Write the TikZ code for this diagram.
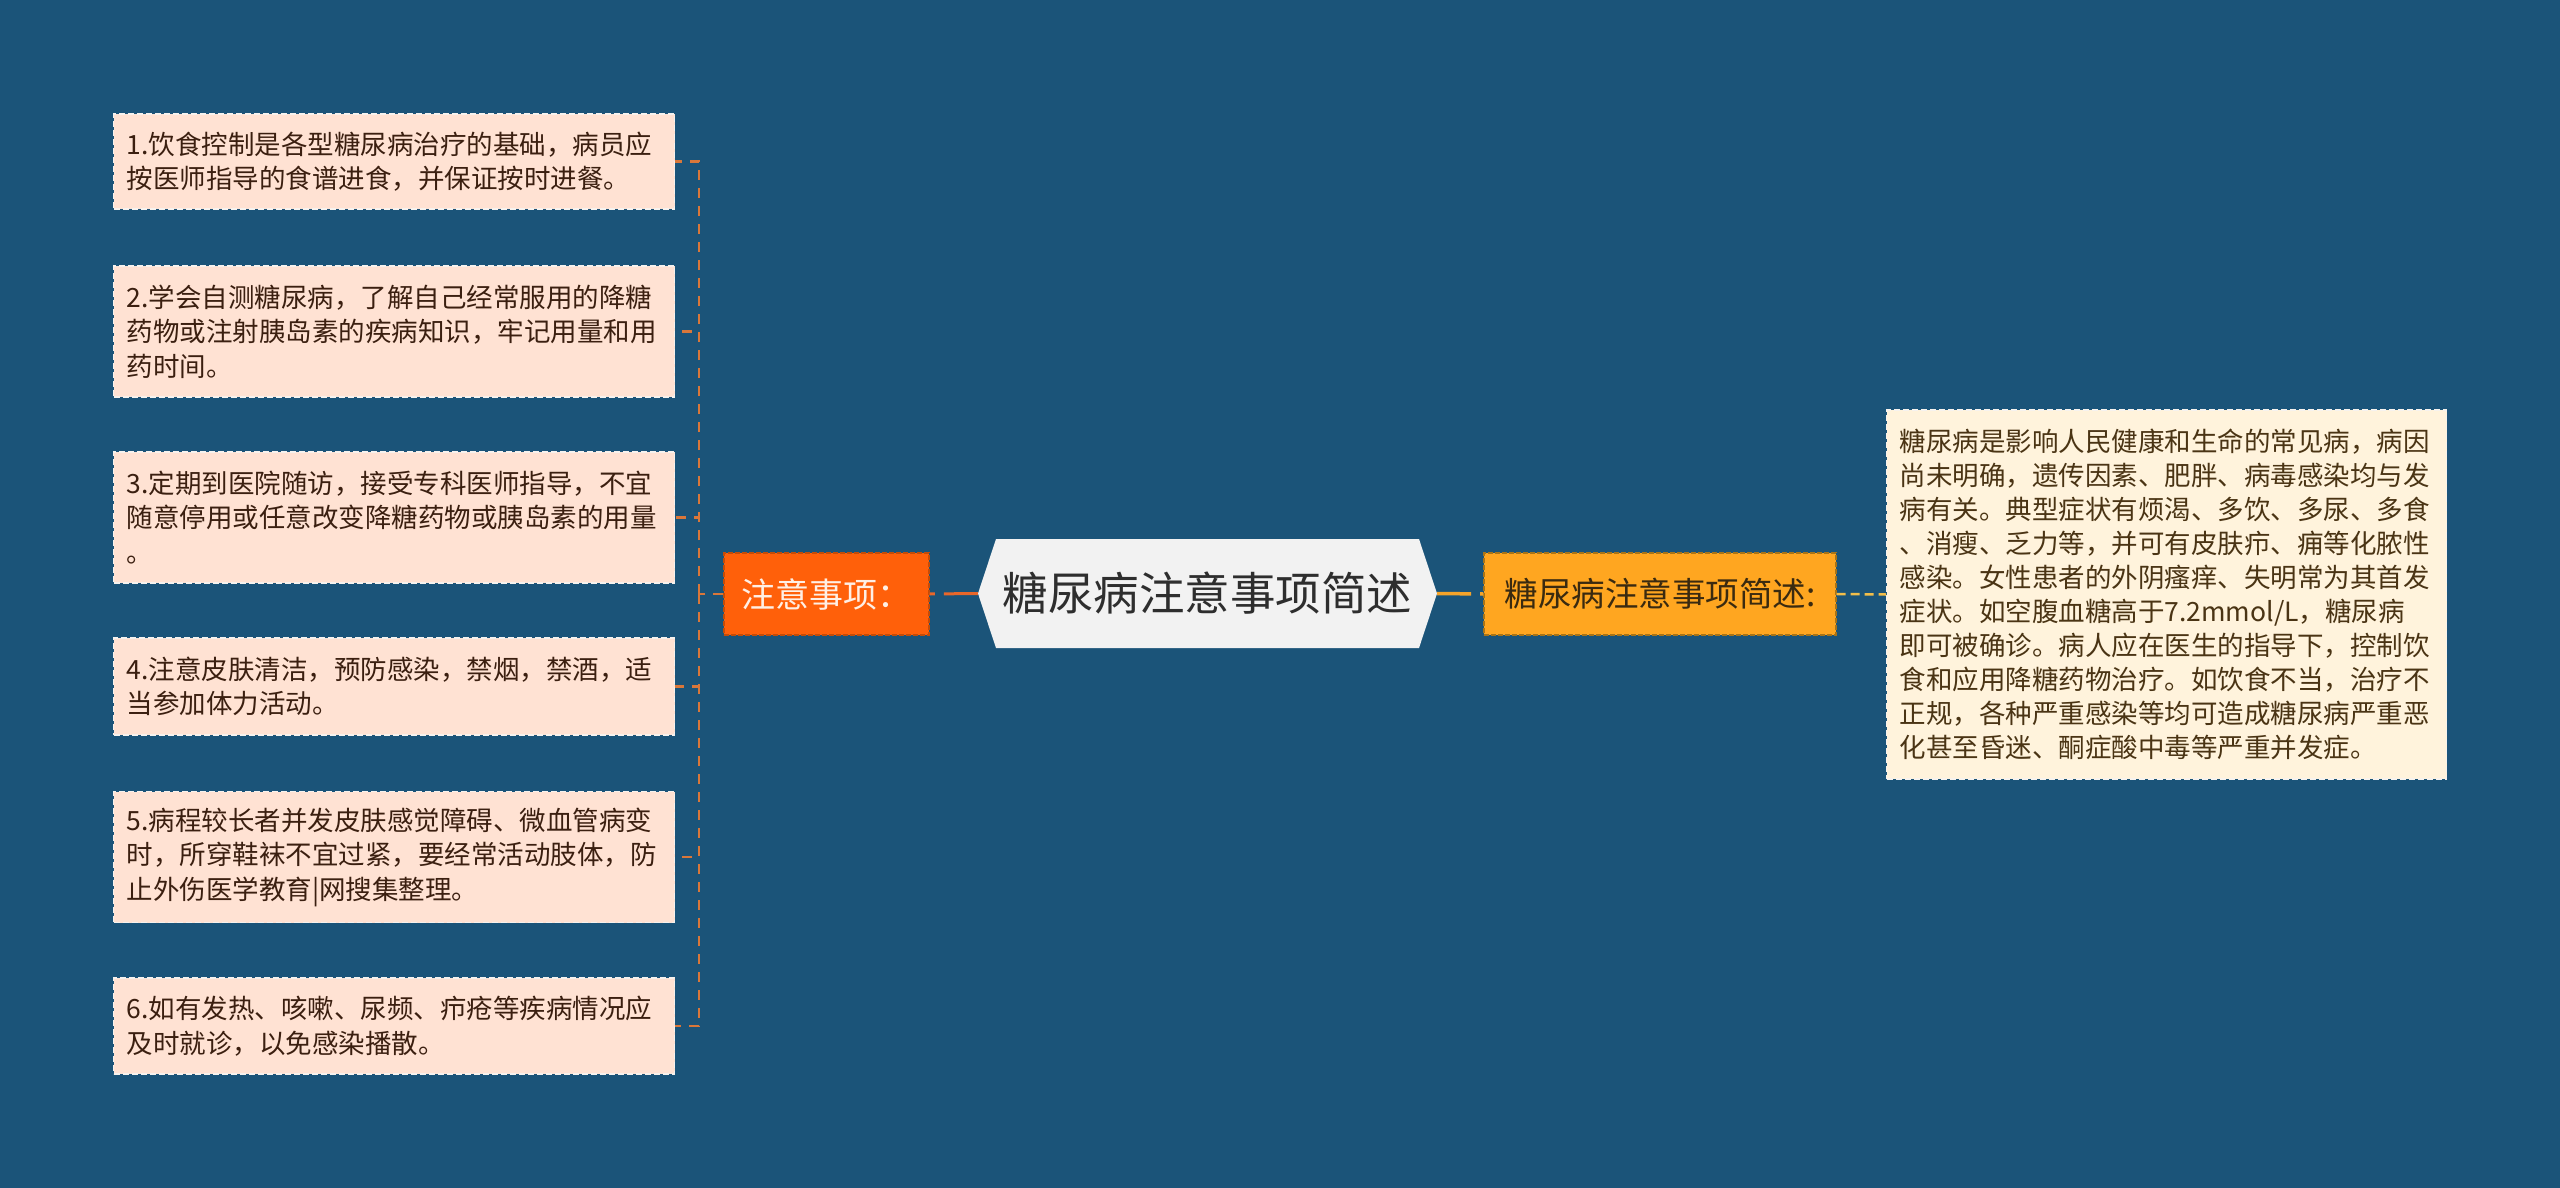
\documentclass[tikz,border=0pt]{standalone}
\usepackage{fontspec}
\setmainfont{Noto Sans CJK SC}
\definecolor{bg}{HTML}{1B5479}
\definecolor{leaffill}{HTML}{FFE2D3}
\definecolor{leafborder}{HTML}{F6F2EE}
\definecolor{leaftext}{HTML}{3B1F10}
\definecolor{rightfill}{HTML}{FFF3DC}
\definecolor{righttext}{HTML}{4A3414}
\definecolor{zyfill}{HTML}{FF600A}
\definecolor{zyborder}{HTML}{C44C08}
\definecolor{zytext}{HTML}{FFEFE5}
\definecolor{ysfill}{HTML}{FFA620}
\definecolor{ysborder}{HTML}{A87418}
\definecolor{ystext}{HTML}{3A2A10}
\definecolor{ctrfill}{HTML}{F2F2F2}
\definecolor{ctrtext}{HTML}{2E2E2E}
\definecolor{lineA}{HTML}{E8672A}
\definecolor{lineB}{HTML}{D9773A}
\definecolor{lineC}{HTML}{F5A42A}
\definecolor{lineD}{HTML}{F2BE4A}
\begin{document}
\begin{tikzpicture}[x=1pt,y=-1pt,
  leaf/.style={fill=leaffill, draw=leafborder, dash pattern=on 6pt off 3pt, line width=1.2pt,
    text=leaftext, font=\fontsize{26.5}{34.5}\selectfont, text width=535pt,
    inner xsep=13pt, inner ysep=0pt, align=left, anchor=west},
  rightbox/.style={fill=rightfill, draw=leafborder, dash pattern=on 6pt off 3pt, line width=1.2pt,
    text=righttext, font=\fontsize{26.5}{34}\selectfont, text width=534pt,
    inner xsep=13pt, inner ysep=0pt, align=left, anchor=west, minimum height=369pt},
  topicbox/.style={minimum height=82pt, inner sep=0pt, line width=1.2pt, dash pattern=on 5pt off 2pt},
  brk/.style={draw=lineB, line width=2.5pt, dash pattern=on 10pt off 8pt},
  linkA/.style={draw=lineA, line width=3pt, dash pattern=on 34pt off 9pt},
  linkC/.style={draw=lineC, line width=3.5pt, dash pattern=on 34pt off 9pt},
  linkD/.style={draw=lineD, line width=2.5pt, dash pattern=on 9pt off 5pt}]
\fill[bg] (0,0) rectangle (2560,1188);
\useasboundingbox (0,0) rectangle (2560,1188);

% central hexagon
\fill[ctrfill] (978,593.5) -- (996,539) -- (1419,539) -- (1437,593.5) -- (1419,648) -- (996,648) -- cycle;
\node (ctr) at (1207.5,593.5) [minimum width=459pt, minimum height=109pt, inner sep=0pt,
  text=ctrtext, font=\fontsize{45.5}{50}\selectfont] {糖尿病注意事项简述};

% topic nodes
\node (zy) at (826.5,594) [topicbox, minimum width=205pt, fill=zyfill, draw=zyborder,
  text=zytext, font=\fontsize{34}{40}\selectfont] {注意事项：};
\node (ys) at (1660,594) [topicbox, minimum width=352pt, fill=ysfill, draw=ysborder,
  text=ystext, font=\fontsize{33.5}{40}\selectfont] {糖尿病注意事项简述:};

% left leaves
\node (b1) at (113,161.5) [leaf, minimum height=95pt] {1.饮食控制是各型糖尿病治疗的基础，病员应\\按医师指导的食谱进食，并保证按时进餐。};
\node (b2) at (113,331.5) [leaf, minimum height=131pt] {2.学会自测糖尿病，了解自己经常服用的降糖\\药物或注射胰岛素的疾病知识，牢记用量和用\\药时间。};
\node (b3) at (113,517.5) [leaf, minimum height=131pt] {3.定期到医院随访，接受专科医师指导，不宜\\随意停用或任意改变降糖药物或胰岛素的用量\\。};
\node (b4) at (113,686.5) [leaf, minimum height=97pt] {4.注意皮肤清洁，预防感染，禁烟，禁酒，适\\当参加体力活动。};
\node (b5) at (113,857) [leaf, minimum height=131pt] {5.病程较长者并发皮肤感觉障碍、微血管病变\\时，所穿鞋袜不宜过紧，要经常活动肢体，防\\止外伤医学教育|网搜集整理。};
\node (b6) at (113,1026) [leaf, minimum height=96pt] {6.如有发热、咳嗽、尿频、疖疮等疾病情况应\\及时就诊，以免感染播散。};

% right text box
\node (rb) at (1886,594.5) [rightbox] {糖尿病是影响人民健康和生命的常见病，病因\\尚未明确，遗传因素、肥胖、病毒感染均与发\\病有关。典型症状有烦渴、多饮、多尿、多食\\、消瘦、乏力等，并可有皮肤疖、痈等化脓性\\感染。女性患者的外阴瘙痒、失明常为其首发\\症状。如空腹血糖高于7.2mmol/L，糖尿病\\即可被确诊。病人应在医生的指导下，控制饮\\食和应用降糖药物治疗。如饮食不当，治疗不\\正规，各种严重感染等均可造成糖尿病严重恶\\化甚至昏迷、酮症酸中毒等严重并发症。};

% connectors
\coordinate (bx) at (699,594);
\draw[linkA] (ctr.west) -- (zy.east);
\draw[brk] (zy.west) -- (bx);
\foreach \b in {b1,b2,b3,b4,b5,b6} {
  \draw[brk] (bx) |- (\b.east);
}
\draw[linkC] (ctr.east) -- (ys.west);
\draw[linkD] (ys.east) -- (rb.west);
\end{tikzpicture}
\end{document}
